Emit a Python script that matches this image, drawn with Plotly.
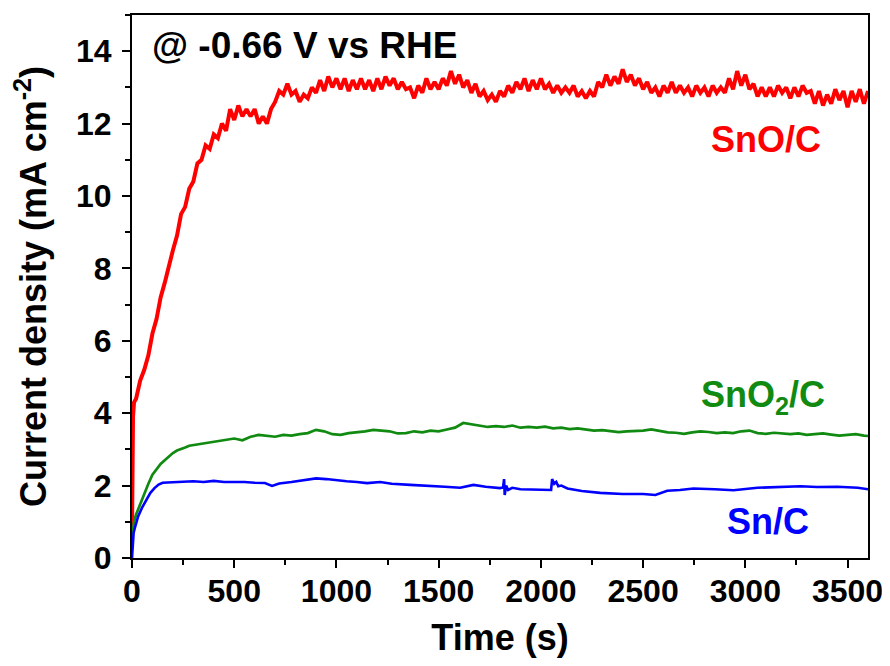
import plotly.graph_objects as go

# ---------------- data ----------------
red_t = [0, 2, 5, 10, 20, 40, 60, 80, 100, 120, 140, 160, 180, 200, 220, 240, 260, 280, 300, 320,
         340, 360, 380, 400, 420, 440, 460, 480, 500, 520, 540, 560, 580, 600, 620, 640, 660, 680, 700, 720,
         740, 760, 780, 800, 820, 840, 860, 880, 900, 920, 940, 960, 980, 1000, 1020, 1040, 1060, 1080, 1100, 1120,
         1140, 1160, 1180, 1200, 1220, 1240, 1260, 1280, 1300, 1320, 1340, 1360, 1380, 1400, 1420, 1440, 1460, 1480, 1500, 1520,
         1540, 1560, 1580, 1600, 1620, 1640, 1660, 1680, 1700, 1720, 1740, 1760, 1780, 1800, 1820, 1840, 1860, 1880, 1900, 1920,
         1940, 1960, 1980, 2000, 2020, 2040, 2060, 2080, 2100, 2120, 2140, 2160, 2180, 2200, 2220, 2240, 2260, 2280, 2300, 2320,
         2340, 2360, 2380, 2400, 2420, 2440, 2460, 2480, 2500, 2520, 2540, 2560, 2580, 2600, 2620, 2640, 2660, 2680, 2700, 2720,
         2740, 2760, 2780, 2800, 2820, 2840, 2860, 2880, 2900, 2920, 2940, 2960, 2980, 3000, 3020, 3040, 3060, 3080, 3100, 3120,
         3140, 3160, 3180, 3200, 3220, 3240, 3260, 3280, 3300, 3320, 3340, 3360, 3380, 3400, 3420, 3440, 3460, 3480, 3500, 3520,
         3540, 3560, 3580, 3600]
red_j = [0.7, 2.6, 3.9, 4.3, 4.4, 4.9, 5.2, 5.6, 6.2, 6.6, 7.2, 7.6, 8.1, 8.5, 8.9, 9.5, 9.7, 10.2, 10.4, 10.9,
         11.0, 11.4, 11.3, 11.7, 11.6, 12.0, 11.8, 12.4, 12.1, 12.5, 12.2, 12.4, 12.2, 12.4, 12.0, 12.2, 12.0, 12.4, 12.6, 12.9,
         12.8, 13.1, 12.8, 12.9, 12.6, 12.8, 12.7, 13.0, 12.85, 13.2, 12.9, 13.3, 13.0, 13.25, 12.95, 13.25, 12.9, 13.2, 12.95, 13.25,
         12.95, 13.2, 12.9, 13.25, 12.95, 13.3, 13.05, 13.25, 12.95, 13.15, 12.95, 13.0, 12.7, 13.05, 12.85, 13.25, 12.95, 13.15, 12.95, 13.25,
         13.05, 13.45, 13.1, 13.35, 13.0, 13.2, 12.85, 13.1, 12.75, 12.9, 12.65, 12.8, 12.6, 12.9, 12.75, 13.05, 12.85, 13.15, 12.95, 13.25,
         12.9, 13.2, 12.95, 13.25, 12.95, 13.1, 12.85, 13.05, 12.85, 13.0, 12.85, 13.05, 12.75, 12.9, 12.7, 12.9, 12.75, 13.15, 13.0, 13.35,
         13.05, 13.3, 13.1, 13.5, 13.15, 13.35, 13.05, 13.25, 12.95, 13.15, 12.85, 13.0, 12.75, 13.05, 12.85, 13.15, 12.85, 13.05, 12.85, 13.0,
         12.75, 13.05, 12.85, 13.0, 12.75, 13.05, 12.85, 13.0, 12.85, 13.25, 12.95, 13.45, 13.05, 13.35, 12.95, 13.1, 12.75, 13.0, 12.75, 13.0,
         12.75, 13.05, 12.85, 13.0, 12.7, 13.0, 12.75, 13.05, 12.85, 12.9, 12.55, 12.9, 12.5, 12.8, 12.55, 12.95, 12.65, 12.9, 12.45, 12.9,
         12.6, 12.95, 12.55, 12.9]

green_t = [0, 5, 10, 20, 40, 60, 80, 100, 120, 140, 160, 180, 200, 220, 240, 260, 280, 300, 340, 380,
           420, 460, 500, 540, 580, 620, 660, 700, 740, 780, 820, 860, 900, 940, 980, 1020, 1060, 1100, 1140, 1180,
           1220, 1260, 1300, 1340, 1380, 1420, 1460, 1500, 1540, 1580, 1620, 1660, 1700, 1740, 1780, 1820, 1860, 1900, 1940, 1980,
           2020, 2060, 2100, 2140, 2180, 2220, 2260, 2300, 2340, 2380, 2420, 2460, 2500, 2540, 2580, 2620, 2660, 2700, 2740, 2780,
           2820, 2860, 2900, 2940, 2980, 3020, 3060, 3100, 3140, 3180, 3220, 3260, 3300, 3340, 3380, 3420, 3460, 3500, 3540, 3580,
           3600]
green_j = [0.5, 0.8, 1.0, 1.2, 1.5, 1.8, 2.05, 2.3, 2.45, 2.6, 2.7, 2.8, 2.9, 2.97, 3.0, 3.05, 3.1, 3.12, 3.16, 3.2,
           3.24, 3.28, 3.3, 3.25, 3.35, 3.4, 3.38, 3.35, 3.4, 3.38, 3.42, 3.45, 3.54, 3.5, 3.42, 3.4, 3.45, 3.47, 3.5, 3.54,
           3.52, 3.5, 3.44, 3.45, 3.5, 3.47, 3.52, 3.5, 3.55, 3.6, 3.73, 3.7, 3.65, 3.62, 3.64, 3.62, 3.66, 3.6, 3.62, 3.6,
           3.63, 3.58, 3.6, 3.56, 3.58, 3.55, 3.52, 3.53, 3.5, 3.48, 3.5, 3.5, 3.52, 3.55, 3.5, 3.47, 3.46, 3.43, 3.47, 3.5,
           3.48, 3.45, 3.47, 3.45, 3.5, 3.52, 3.45, 3.43, 3.46, 3.43, 3.42, 3.44, 3.4, 3.42, 3.44, 3.41, 3.38, 3.4, 3.42, 3.38,
           3.37]

blue_t = [0, 3, 8, 15, 30, 50, 70, 90, 110, 130, 150, 200, 250, 300, 350, 400, 450, 500, 550, 600,
          650, 685, 720, 780, 840, 900, 950, 1000, 1050, 1100, 1150, 1214, 1270, 1361, 1450, 1530, 1605, 1670, 1730, 1800,
          1815, 1820, 1823, 1830, 1840, 1860, 1900, 1950, 2012, 2050, 2055, 2065, 2075, 2085, 2100, 2130, 2200, 2290, 2400, 2500,
          2560, 2618, 2680, 2746, 2850, 2942, 3059, 3150, 3270, 3350, 3450, 3550, 3600]
blue_j = [0.0, 0.4, 0.7, 0.85, 1.15, 1.4, 1.62, 1.8, 1.93, 2.03, 2.08, 2.1, 2.1, 2.12, 2.1, 2.13, 2.1, 2.11, 2.1, 2.08,
          2.07, 1.99, 2.06, 2.1, 2.15, 2.2, 2.18, 2.14, 2.12, 2.1, 2.07, 2.1, 2.05, 2.02, 2.0, 1.97, 1.94, 2.02, 1.97, 1.93,
          1.95, 2.18, 1.74, 2.0, 1.88, 1.94, 1.9, 1.9, 1.88, 1.88, 2.18, 2.05, 2.1, 1.98, 2.0, 1.92, 1.85, 1.8, 1.77, 1.77,
          1.74, 1.86, 1.88, 1.92, 1.9, 1.87, 1.94, 1.96, 1.98, 1.96, 1.97, 1.94, 1.9]

x_ticks = [0, 500, 1000, 1500, 2000, 2500, 3000, 3500]
y_ticks = [0, 2, 4, 6, 8, 10, 12, 14]

FONT = "Liberation Sans, Arial, sans-serif"

fig = go.Figure()
fig.add_trace(go.Scatter(x=red_t, y=red_j, mode="lines", line=dict(color="#ff0000", width=4), name="SnO/C"))
fig.add_trace(go.Scatter(x=green_t, y=green_j, mode="lines", line=dict(color="#108a10", width=2.7), name="SnO2/C"))
fig.add_trace(go.Scatter(x=blue_t, y=blue_j, mode="lines", line=dict(color="#0000ff", width=2.6), name="Sn/C"))

axis_common = dict(
    showgrid=False, zeroline=False, showline=True, linecolor="black", linewidth=2, mirror=True,
    ticks="outside", ticklen=8, tickwidth=2, tickcolor="black", automargin=False,
    tickfont=dict(family=FONT, size=32, color="black", weight="bold"),
)
fig.update_xaxes(
    range=[0, 3600], tickvals=x_ticks, ticktext=[str(v) for v in x_ticks], ticklabelstandoff=-4,
    minor=dict(dtick=250, ticklen=5, tickwidth=2, tickcolor="black", ticks="outside", showgrid=False),
    title=dict(text="<b>Time (s)</b>", font=dict(family=FONT, size=36, color="black"), standoff=16),
    **axis_common,
)
fig.update_yaxes(
    range=[0, 15], tickvals=y_ticks, ticktext=[str(v) for v in y_ticks], ticklabelstandoff=4,
    minor=dict(dtick=1, ticklen=5, tickwidth=2, tickcolor="black", ticks="outside", showgrid=False),
    title=dict(text="<b>Current density (mA cm<sup>-2</sup>)</b>", font=dict(family=FONT, size=36, color="black"), standoff=18),
    **axis_common,
)

fig.add_annotation(x=0.024, y=0.943, xref="paper", yref="paper", xanchor="left", yanchor="middle",
                   text="<b>@ -0.66 V vs RHE</b>", showarrow=False,
                   font=dict(family=FONT, size=37, color="black"))
fig.add_annotation(x=0.861, y=11.55, xref="paper", yref="y", xanchor="center", yanchor="middle",
                   text="<b>SnO/C</b>", showarrow=False, font=dict(family=FONT, size=36, color="#ff0000"))
fig.add_annotation(x=0.857, y=4.45, xref="paper", yref="y", xanchor="center", yanchor="middle",
                   text="<b>SnO<sub>2</sub>/C</b>", showarrow=False, font=dict(family=FONT, size=36, color="#108a10"))
fig.add_annotation(x=0.864, y=1.02, xref="paper", yref="y", xanchor="center", yanchor="middle",
                   text="<b>Sn/C</b>", showarrow=False, font=dict(family=FONT, size=36, color="#0000ff"))

# page body adds an 8px offset, compensated in the margins
fig.update_layout(
    width=890, height=666, showlegend=False,
    paper_bgcolor="white", plot_bgcolor="white",
    margin=dict(l=124, r=30, t=7, b=116),
    font=dict(family=FONT),
)

fig.write_html("out.html")
